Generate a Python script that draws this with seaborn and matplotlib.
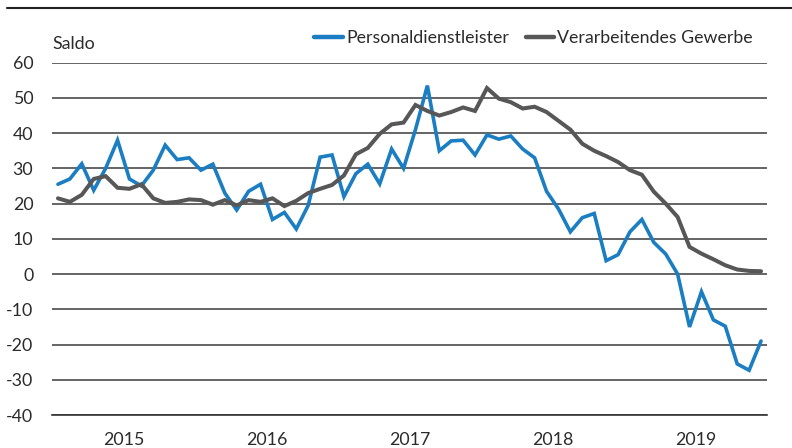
import numpy as np
import pandas as pd
import matplotlib
matplotlib.use("Agg")
import matplotlib.pyplot as plt
import seaborn as sns

years = ["2015", "2016", "2017", "2018", "2019"]
series_names = ["Personaldienstleister", "Verarbeitendes Gewerbe"]

personal = [
    25.5, 27.0, 31.3, 23.8, 30.0, 38.0, 27.0, 25.0, 29.5, 36.6, 32.5, 33.0,
    29.5, 31.2, 23.0, 18.2, 23.5, 25.5, 15.5, 17.5, 12.8, 19.5, 33.2, 33.8,
    22.0, 28.5, 31.2, 25.6, 35.5, 30.0, 41.0, 53.5, 35.0, 37.8, 38.0, 33.8,
    39.5, 38.3, 39.2, 35.5, 33.0, 23.5, 18.5, 12.0, 16.0, 17.2, 3.8, 5.5,
    12.0, 15.5, 9.0, 5.7, 0.0, -15.0, -5.0, -13.0, -14.8, -25.5, -27.3, -19.0,
]
gewerbe = [
    21.5, 20.5, 22.5, 27.0, 27.8, 24.5, 24.2, 25.5, 21.5, 20.2, 20.5, 21.2,
    21.0, 19.7, 21.0, 19.5, 21.0, 20.5, 21.5, 19.3, 20.8, 23.0, 24.2, 25.3,
    28.0, 34.0, 35.8, 39.8, 42.5, 43.0, 48.0, 46.3, 45.0, 46.0, 47.3, 46.3,
    52.8, 49.8, 48.8, 47.0, 47.5, 46.0, 43.5, 41.0, 37.0, 35.0, 33.5, 31.8,
    29.5, 28.2, 23.4, 20.0, 16.2, 7.7, 5.8, 4.2, 2.5, 1.3, 0.9, 0.8,
]
yticks = [60, 50, 40, 30, 20, 10, 0, -10, -20, -30, -40]

months = np.arange(len(personal))
df = pd.DataFrame({
    "month": np.concatenate([months, months]),
    "value": personal + gewerbe,
    "series": [series_names[0]] * len(personal) + [series_names[1]] * len(gewerbe),
})

sns.set_style("white")
plt.rcParams["font.family"] = ["Lato", "DejaVu Sans"]
textc = "#2b2b2b"
fs = 12.8

fig = plt.figure(figsize=(7.92, 4.48), dpi=100)
ax = fig.add_axes([52 / 792, 1 - 415 / 448, (767 - 52) / 792, (415 - 62.7) / 448])

palette = {series_names[0]: "#1b7dc2", series_names[1]: "#575757"}
widths = {series_names[0]: 2.6, series_names[1]: 2.9}
for name in series_names:
    sns.lineplot(data=df[df["series"] == name], x="month", y="value",
                 color=palette[name], linewidth=widths[name], ax=ax,
                 label=name, legend=False, solid_joinstyle="miter")

ax.set_xlim(-0.5, len(personal) - 0.5)
ax.set_ylim(-40, 60)
ax.set_yticks(yticks)
ax.set_yticklabels([str(t) for t in yticks], fontsize=fs, color=textc)
ax.yaxis.grid(True, color="#4a4a4a", linewidth=1.2)
ax.set_axisbelow(True)
for s in ["left", "right", "top"]:
    ax.spines[s].set_visible(False)
ax.spines["bottom"].set_color("#333333")
ax.spines["bottom"].set_linewidth(1.2)
ax.tick_params(axis="y", length=0, pad=13.5)

bounds = [-0.5 + 12 * i for i in range(len(years) + 1)]
ax.set_xticks(bounds)
ax.set_xticklabels([""] * len(bounds))
ax.tick_params(axis="x", length=5, width=1.2, color="#333333", direction="out")
ax.set_xticks([5.5 + 12 * i for i in range(len(years))], minor=True)
ax.set_xticklabels(years, minor=True, fontsize=fs, color=textc)
ax.tick_params(axis="x", which="minor", length=0, pad=12)
ax.set_xlabel("")
ax.set_ylabel("")

fig.text(52 / 792, 1 - 44 / 448, "Saldo", fontsize=fs, color=textc, va="center", ha="left")

handles, labels = ax.get_legend_handles_labels()
leg = fig.legend(handles, labels, loc="center right",
                 bbox_to_anchor=(753 / 792, 1 - 38 / 448), ncol=2, frameon=False,
                 fontsize=fs, handlelength=1.6, handletextpad=0.18, columnspacing=0.95,
                 borderaxespad=0, borderpad=0)
for t in leg.get_texts():
    t.set_color(textc)
for l in leg.get_lines():
    l.set_linewidth(3.2)

fig.add_artist(plt.Line2D([7 / 792, 792 / 792], [1 - 8 / 448, 1 - 8 / 448],
                          color="#222222", linewidth=1.5))

fig.savefig("out.png", dpi=100)
